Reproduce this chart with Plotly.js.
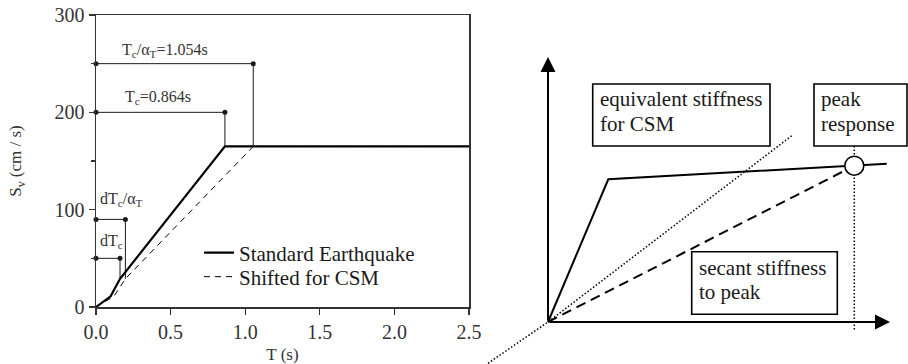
<!DOCTYPE html>
<html>
<head>
<meta charset="utf-8">
<script src="https://cdn.plot.ly/plotly-3.0.1.min.js"></script>
<style>html,body{margin:0;padding:0;background:#fff;}#chart{width:908px;height:364px;}</style>
</head>
<body>
<div id="chart"></div>
<script>
// ---- Left chart data: velocity spectrum ----
const T_standard = [0, 0.098, 0.161, 0.864, 2.5];
const Sv_standard = [0, 11, 29, 165, 165];
const T_shifted = [0, 0.12, 0.197, 1.054, 2.5];
const Sv_shifted = [0, 11, 29, 165, 165];
// guide lines: period, level of horizontal line, level where vertical meets curve
const guideT = [1.054, 0.864, 0.197, 0.161];
const guideSv = [250, 200, 90, 50];
const guideBase = [165, 165, 29, 29];
const guideLabels = ['T<sub>c</sub>/α<sub>T</sub>=1.054s', 'T<sub>c</sub>=0.864s', 'dT<sub>c</sub>/α<sub>T</sub>', 'dT<sub>c</sub>'];
const xTicks = [0, 0.5, 1.0, 1.5, 2.0, 2.5];
const yTicks = [0, 100, 200, 300];

// ---- Right schematic data (arbitrary units, origin at 0,0) ----
const capD = [0, 1.763, 9.904];
const capF = [0, 5.385, 5.974];
const peakD = [8.956];
const peakF = [5.898];
const equivD = [-1.754, 0, 7.155];
const equivF = [-1.558, 0, 7.057];
const peakDropD = [8.956, 8.956];
const peakDropF = [6.64, -0.30];
const axisLen = 10;
const boxLines = [['equivalent stiffness', 'for CSM'], ['peak', 'response'], ['secant stiffness', 'to peak']];

const W = 908, H = 364;
const fx = p => p / W;
const fy = p => 1 - p / H;
const serif = '"Liberation Serif", "Times New Roman", serif';
const ink = '#1a1a1a';

const traces = [];
// guide lines
guideT.forEach((t, i) => {
  traces.push({
    x: [0, t, t], y: [guideSv[i], guideSv[i], guideBase[i]],
    mode: 'lines', line: {color: ink, width: 1}, showlegend: false, hoverinfo: 'skip',
    xaxis: 'x', yaxis: 'y', cliponaxis: false
  });
  traces.push({
    x: [0, t], y: [guideSv[i], guideSv[i]],
    mode: 'markers', marker: {color: ink, size: 5}, showlegend: false, hoverinfo: 'skip',
    xaxis: 'x', yaxis: 'y', cliponaxis: false
  });
});
traces.push({
  x: T_standard, y: Sv_standard, name: 'Standard Earthquake', mode: 'lines',
  line: {color: '#000', width: 2.2}, xaxis: 'x', yaxis: 'y', legend: 'legend'
});
traces.push({
  x: T_shifted, y: Sv_shifted, name: 'Shifted for CSM', mode: 'lines',
  line: {color: '#000', width: 1, dash: '6px,5px'}, xaxis: 'x', yaxis: 'y', legend: 'legend2'
});
// schematic
traces.push({x: equivD, y: equivF, mode: 'lines', line: {color: '#000', width: 1.5, dash: '1.5px,2px'},
  showlegend: false, hoverinfo: 'skip', xaxis: 'x2', yaxis: 'y2'});
traces.push({x: peakDropD, y: peakDropF, mode: 'lines', line: {color: '#000', width: 1.5, dash: '1.5px,2px'},
  showlegend: false, hoverinfo: 'skip', xaxis: 'x2', yaxis: 'y2'});
traces.push({x: [0, peakD[0]], y: [0, peakF[0]], mode: 'lines', line: {color: '#000', width: 2, dash: '10px,6px'},
  showlegend: false, hoverinfo: 'skip', xaxis: 'x2', yaxis: 'y2'});
traces.push({x: capD, y: capF, mode: 'lines', line: {color: '#000', width: 2},
  showlegend: false, hoverinfo: 'skip', xaxis: 'x2', yaxis: 'y2'});
traces.push({x: peakD, y: peakF, mode: 'markers',
  marker: {color: '#fff', size: 19, line: {color: '#000', width: 1.6}},
  showlegend: false, hoverinfo: 'skip', xaxis: 'x2', yaxis: 'y2'});

const annotations = [];
const labelPos = [[0.161, 264], [0.183, 215], [0.015, 110], [0.015, 67]];
guideLabels.forEach((txt, i) => {
  annotations.push({xref: 'x', yref: 'y', x: labelPos[i][0], y: labelPos[i][1], text: txt,
    showarrow: false, xanchor: 'left', yanchor: 'middle', font: {family: serif, size: 16, color: '#333'}});
});
// schematic axes arrows
annotations.push({xref: 'x2', yref: 'y2', axref: 'x2', ayref: 'y2', x: 0, y: axisLen, ax: 0, ay: 0,
  text: '', showarrow: true, arrowhead: 2, arrowsize: 1.5, arrowwidth: 2, arrowcolor: '#000'});
annotations.push({xref: 'x2', yref: 'y2', axref: 'x2', ayref: 'y2', x: axisLen, y: 0, ax: 0, ay: 0,
  text: '', showarrow: true, arrowhead: 2, arrowsize: 1.5, arrowwidth: 2, arrowcolor: '#000'});
// boxes
const boxes = [
  {x0: 592.7, x1: 770, y0: 84, y1: 146, tx: 598.3, ty: [99, 124]},
  {x0: 814, x1: 907, y0: 84, y1: 146, tx: 819.3, ty: [99, 124]},
  {x0: 691.7, x1: 837.3, y0: 251.7, y1: 314.3, tx: 697.3, ty: [268, 292]}
];
const shapes = [];
boxes.forEach((b, i) => {
  shapes.push({type: 'rect', xref: 'paper', yref: 'paper', x0: fx(b.x0), x1: fx(b.x1), y0: fy(b.y1), y1: fy(b.y0),
    line: {color: '#000', width: 1.6}, fillcolor: '#fff', layer: 'above'});
  boxLines[i].forEach((line, j) => {
    annotations.push({xref: 'paper', yref: 'paper', x: fx(b.tx), y: fy(b.ty[j]), text: line, showarrow: false,
      xanchor: 'left', yanchor: 'middle', align: 'left', font: {family: serif, size: 21, color: ink}});
  });
});

const legendStyle = {xanchor: 'left', yanchor: 'middle', bgcolor: 'rgba(0,0,0,0)', borderwidth: 0,
  font: {family: serif, size: 21, color: ink}};

const layout = {
  width: W, height: H,
  margin: {l: 0, r: 0, t: 0, b: 0, pad: 0},
  paper_bgcolor: '#fff', plot_bgcolor: 'rgba(0,0,0,0)',
  font: {family: serif, color: ink},
  showlegend: true,
  legend: Object.assign({x: fx(199), y: fy(253)}, legendStyle),
  legend2: Object.assign({x: fx(199), y: fy(277)}, legendStyle),
  xaxis: {domain: [fx(96), fx(469)], range: [0, 2.5], tickvals: xTicks, ticktext: xTicks.map(v => v.toFixed(1)),
    ticks: 'outside', ticklen: 6, tickwidth: 1.2, tickcolor: '#333', showline: true, linecolor: '#333', linewidth: 1.5,
    mirror: true, showgrid: false, zeroline: false, automargin: false,
    tickfont: {family: serif, size: 20, color: '#333'},
    title: {text: 'T (s)', font: {family: serif, size: 17, color: '#333'}, standoff: 11}, anchor: 'y'},
  yaxis: {domain: [fy(307), fy(15)], range: [0, 300], tickvals: yTicks,
    ticks: 'outside', ticklen: 6, tickwidth: 1.2, tickcolor: '#333', showline: true, linecolor: '#333', linewidth: 1.5,
    mirror: true, showgrid: false, zeroline: false, automargin: false,
    minor: {dtick: 50, ticks: 'outside', ticklen: 4, tickcolor: '#333'},
    tickfont: {family: serif, size: 20, color: '#333'},
    title: {text: 'S<sub>v</sub> (cm / s)', font: {family: serif, size: 17, color: '#333'}, standoff: 28}, anchor: 'x'},
  xaxis2: {domain: [0.48, 1], range: [(W * 0.48 - 548) / 34.2, (W - 548) / 34.2], visible: false, anchor: 'y2', fixedrange: true},
  yaxis2: {domain: [0, 1], range: [-(H - 322) / 26.5, 322 / 26.5], visible: false, anchor: 'x2', fixedrange: true},
  shapes: shapes,
  annotations: annotations
};

Plotly.newPlot('chart', traces, layout, {displayModeBar: false, staticPlot: true});
</script>
</body>
</html>
